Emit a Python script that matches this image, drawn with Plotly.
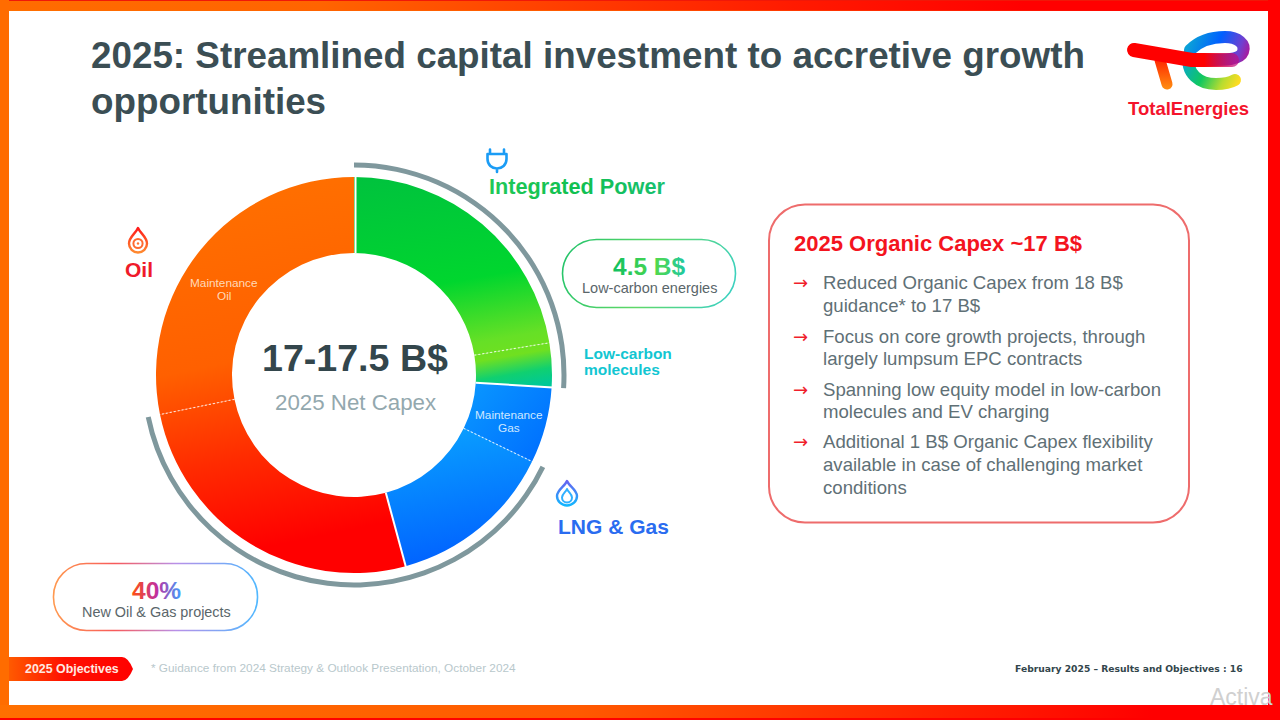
import base64
import math
import plotly.graph_objects as go

W, H = 1280, 720

# Capex split, share of net capex in percent, clockwise from 12 o'clock
segment_names = ["Low-carbon energies", "Low-carbon molecules", "Maintenance Gas",
                 "LNG & Gas growth", "New Oil", "Maintenance Oil"]
segment_values = [22.4, 3.6, 6.2, 13.6, 26.0, 28.2]
segment_fallback = ["#00d42e", "#10d070", "#0088ff", "#0080ff", "#ff2a00", "#ff6400"]

# Outer ring: Integrated Power span, gap, new-project span, gap
ring_names = ["Integrated Power", "gap 1", "New Oil & Gas projects", "gap 2"]
ring_values = [26.0, 6.2, 39.6, 28.2]
ring_colors = ["#7f989d", "rgba(0,0,0,0)", "#7f989d", "rgba(0,0,0,0)"]

# Slice boundaries by segment index: business lines are split by solid seams,
# sub-segments inside a business line by dashed ones
solid_edges = [1, 3]
dashed_edges = [0, 2, 4]

title_lines = ["2025: Streamlined capital investment to accretive growth", "opportunities"]
box_heading = "2025 Organic Capex ~17 B$"
box_bullets = [
    ["Reduced Organic Capex from 18 B$", "guidance* to 17 B$"],
    ["Focus on core growth projects, through", "largely lumpsum EPC contracts"],
    ["Spanning low equity model in low-carbon", "molecules and EV charging"],
    ["Additional 1 B$ Organic Capex flexibility", "available in case of challenging market", "conditions"],
]
bullet_line_y = [[283, 305], [336, 358], [389, 411], [441, 464, 487]]

CX, CY, R, R_IN = 354, 375, 198, 122
RING_OUT, RING_W = 212.5, 5

SANS = "Liberation Sans, Arial, sans-serif"
INK = "#3b4e54"
BODY = "#5f7076"


def px(x):
    return x / W


def py(y):
    return 1 - y / H


def note(text, x, y, size, color, anchor="left", bold=False, family=SANS):
    return dict(text=text, x=px(x), y=py(y), xref="paper", yref="paper", xanchor=anchor,
                yanchor="middle", showarrow=False, borderpad=0, align=anchor,
                font=dict(size=size, color=color, family=family,
                          weight=700 if bold else 400))


# Decorative layer: frame, logo, icons and rounded panels
decor_svg = f"""<svg xmlns='http://www.w3.org/2000/svg' width='{W}' height='{H}' viewBox='0 0 {W} {H}'>
<defs>
<linearGradient id='top'><stop offset='0' stop-color='#ff6c00'/><stop offset='.25' stop-color='#ff6400'/><stop offset='.62' stop-color='#ff1a00'/><stop offset='.8' stop-color='#ff0000'/></linearGradient>
<linearGradient id='bot'><stop offset='0' stop-color='#ff7000'/><stop offset='.45' stop-color='#ff5a00'/><stop offset='.8' stop-color='#ff1500'/><stop offset='.9' stop-color='#ff0000'/></linearGradient>
<linearGradient id='pillg' gradientUnits='userSpaceOnUse' x1='562' y1='239' x2='735' y2='307'><stop offset='0' stop-color='#1fc26a'/><stop offset='.5' stop-color='#5fd868'/><stop offset='1' stop-color='#38d0c8'/></linearGradient>
<linearGradient id='pillo' gradientUnits='userSpaceOnUse' x1='53' y1='0' x2='258' y2='0'><stop offset='0' stop-color='#ff9a50'/><stop offset='.3' stop-color='#f85a5a'/><stop offset='.6' stop-color='#b890e8'/><stop offset='1' stop-color='#50b8ff'/></linearGradient>
<linearGradient id='tab'><stop offset='0' stop-color='#ff5a00'/><stop offset='.45' stop-color='#ff1000'/><stop offset='1' stop-color='#ff0000'/></linearGradient>
<linearGradient id='oil' x1='0' y1='0' x2='0' y2='1'><stop offset='0' stop-color='#ff1a1a'/><stop offset='1' stop-color='#ff8a30'/></linearGradient>
<linearGradient id='gas' gradientUnits='userSpaceOnUse' x1='0' y1='480' x2='0' y2='506'><stop offset='0' stop-color='#6a60f0'/><stop offset='1' stop-color='#10b8ff'/></linearGradient>
<linearGradient id='eTop' gradientUnits='userSpaceOnUse' x1='1190' y1='40' x2='1248' y2='62'><stop offset='0' stop-color='#0aa0d8'/><stop offset='.45' stop-color='#0060ff'/><stop offset='.8' stop-color='#7040d0'/><stop offset='1' stop-color='#b81090'/></linearGradient>
<linearGradient id='eLow' gradientUnits='userSpaceOnUse' x1='1186' y1='58' x2='1238' y2='84'><stop offset='0' stop-color='#08a8c8'/><stop offset='.4' stop-color='#10c860'/><stop offset='.75' stop-color='#b8dc30'/><stop offset='1' stop-color='#ffdc20'/></linearGradient>
<linearGradient id='stem' gradientUnits='userSpaceOnUse' x1='0' y1='58' x2='0' y2='88'><stop offset='0' stop-color='#ff2000'/><stop offset='1' stop-color='#ff8a10'/></linearGradient>
<linearGradient id='bar' gradientUnits='userSpaceOnUse' x1='1130' y1='0' x2='1236' y2='0'><stop offset='0' stop-color='#ff0000'/><stop offset='.7' stop-color='#ff0000'/><stop offset='1' stop-color='#c00c80' stop-opacity='.7'/></linearGradient>
</defs>
<rect x='0' y='0' width='{W}' height='{H}' fill='url(#bot)'/>
<rect x='0' y='0' width='{W}' height='10' fill='url(#top)'/>
<rect x='0' y='0' width='{W}' height='1' fill='#f01808'/>
<rect x='1268' y='0' width='12' height='{H}' fill='#ff0000'/>
<rect x='0' y='718' width='{W}' height='2' fill='#ff0000'/>
<rect x='0' y='0' width='9' height='705' fill='#ff6c00'/>
<rect x='9' y='11' width='1259' height='694' fill='#ffffff'/>
<rect x='562.5' y='239.5' width='173' height='68' rx='34' fill='#fff' stroke='url(#pillg)' stroke-width='1.6'/>
<rect x='53.5' y='563.5' width='204' height='67' rx='33' fill='#fff' stroke='url(#pillo)' stroke-width='1.6'/>
<rect x='769' y='204.5' width='420' height='318' rx='36' fill='#fff' stroke='#ee6c6c' stroke-width='2'/>
<path d='M9,657 H122 Q128,657 133,669 Q128,681 122,681 H9 Z' fill='url(#tab)'/>
<g fill='none' stroke-linecap='round' stroke-linejoin='round'>
<path d='M1189,54 C1185,74 1200,84 1216,84 Q1228,84 1235,80' stroke='url(#eLow)' stroke-width='12'/>
<path d='M1190,50 C1200,40 1214,37 1225,37 C1238,37 1246,44 1243,52 C1240,60 1226,60 1205,60' stroke='url(#eTop)' stroke-width='12'/>
<path d='M1160,60 L1167,84' stroke='url(#stem)' stroke-width='11'/>
<path d='M1134,50 L1192,60 L1232,60' stroke='url(#bar)' stroke-width='14'/>
<path d='M490,149.5 V154 M504,149.5 V154 M487.5,154 H506.5 V159 C506.5,165 502,168.5 497,168.5 C492,168.5 487.5,165 487.5,159 Z M497,168.5 V172' stroke='#1b9cf5' stroke-width='2.6'/>
<path d='M138,228 C140,233 147,237 147,243.5 A9,9 0 1 1 129,243.5 C129,237 136,233 138,228 Z' stroke='url(#oil)' stroke-width='2.4'/>
<circle cx='138' cy='243.5' r='4.6' stroke='#ff6a30' stroke-width='2'/>
<circle cx='138' cy='243.5' r='1.2' fill='#ff7030' stroke='none'/>
<path d='M567,481 C569,486 577,490 577,496 A10,9.5 0 1 1 557,496 C557,490 565,486 567,481 Z' stroke='url(#gas)' stroke-width='2.4'/>
<path d='M567,489 C568,492 572,494 572,497.5 A5,5 0 1 1 562,497.5 C562,494 566,492 567,489 Z' stroke='#30b0ff' stroke-width='2'/>
</g>
</svg>"""
decor_uri = "data:image/svg+xml;base64," + base64.b64encode(decor_svg.encode()).decode()

fig = go.Figure()
fig.add_trace(go.Pie(
    labels=segment_names, values=segment_values, sort=False, direction="clockwise", rotation=0,
    hole=R_IN / R, textinfo="none", hoverinfo="label+percent",
    marker=dict(colors=segment_fallback, line=dict(width=0)),
    domain=dict(x=[px(CX - R), px(CX + R)], y=[py(CY + R), py(CY - R)]),
    showlegend=False,
))
fig.add_trace(go.Pie(
    labels=ring_names, values=ring_values, sort=False, direction="clockwise", rotation=0,
    hole=(RING_OUT - RING_W) / RING_OUT, textinfo="none", hoverinfo="skip",
    marker=dict(colors=ring_colors, line=dict(width=0)),
    domain=dict(x=[px(CX - RING_OUT), px(CX + RING_OUT)], y=[py(CY + RING_OUT), py(CY - RING_OUT)]),
    showlegend=False,
))


def edge_shapes(indices, width, dash, opacity):
    out = []
    total = sum(segment_values)
    for i in indices:
        theta = math.radians(sum(segment_values[:i + 1]) / total * 360)
        sx, sy = math.sin(theta), -math.cos(theta)
        out.append(dict(type="line", xref="paper", yref="paper", layer="above",
                        x0=px(CX + R_IN * sx), y0=py(CY + R_IN * sy),
                        x1=px(CX + (R + 1) * sx), y1=py(CY + (R + 1) * sy),
                        line=dict(color="#ffffff", width=width, dash=dash), opacity=opacity))
    return out


shapes = edge_shapes(solid_edges, 2, "solid", 1) + edge_shapes(dashed_edges, 1.1, "2px,2px", 0.8)
# The seam between the first and last slice sits at 12 o'clock
shapes.append(dict(type="line", xref="paper", yref="paper", layer="above",
                   x0=px(CX + 1.5), y0=py(CY - R_IN), x1=px(CX + 1.5), y1=py(CY - R - 1),
                   line=dict(color="#ffffff", width=2)))

notes = [
    note(title_lines[0], 90, 56, 36.8, INK, bold=True),
    note(title_lines[1], 90, 102, 36.8, INK, bold=True),
    note("TotalEnergies", 1127, 108, 18.5, "#f4142c", bold=True),
    note("Integrated Power", 488, 187, 21.7, "#12c04a", bold=True),
    note("Oil", 124, 269, 21, "#ef1a2a", bold=True),
    note("LNG &amp; Gas", 557, 526, 21, "#2a6cf0", bold=True),
    note("Low-carbon", 583, 353.5, 15.5, "#12c6d2", bold=True),
    note("molecules", 583, 369.5, 15.5, "#12c6d2", bold=True),
    note("4.5 B$", 649, 266, 24.5, "#20c860", "center", bold=True),
    note("Low-carbon energies", 649, 288, 14.5, "#5a666a", "center"),
    note("40%", 156, 590, 24.5, "#e04050", "center", bold=True),
    note("New Oil &amp; Gas projects", 156, 612, 14.4, "#5a666a", "center"),
    note("17-17.5 B$", 355, 358, 37.6, "#33464c", "center", bold=True),
    note("2025 Net Capex", 355, 402, 22.3, "#93a8ae", "center"),
    note("Maintenance", 224, 283, 11.8, "#ffd9b8", "center"),
    note("Oil", 224, 296, 11.8, "#ffd9b8", "center"),
    note("Maintenance", 509, 415, 11.8, "#cfe8ff", "center"),
    note("Gas", 509, 428, 11.8, "#cfe8ff", "center"),
    note(box_heading, 793, 243, 22, "#f4141e", bold=True),
    note("2025 Objectives", 72, 669, 12.4, "#ffe8e0", "center", bold=True),
    note("* Guidance from 2024 Strategy &amp; Outlook Presentation, October 2024", 150, 668, 11.8, "#b8c8cc"),
    note("February 2025 – Results and Objectives : 16", 1244, 668, 9.2, "#33464c", "right", bold=True,
         family="DejaVu Sans, sans-serif"),
    note("Activa", 1209, 697, 23, "#d0d0d0"),
]
for lines, ys in zip(box_bullets, bullet_line_y):
    notes.append(note("→", 792, ys[0], 18, "#f01e2c", family="DejaVu Sans, sans-serif"))
    for line, y in zip(lines, ys):
        notes.append(note(line, 822, y, 18.6, BODY))

fig.update_layout(
    width=W, height=H, margin=dict(l=0, r=0, t=0, b=0), autosize=False,
    paper_bgcolor="#ffffff", plot_bgcolor="#ffffff", showlegend=False,
    images=[dict(source=decor_uri, xref="paper", yref="paper", x=0, y=1, sizex=1, sizey=1,
                 xanchor="left", yanchor="top", sizing="stretch", layer="below")],
    shapes=shapes, annotations=notes,
)

# Gradient fills for the donut slices and the coloured headings
post = """
var gd = document.getElementById('{plot_id}');
var svg = gd.querySelector('svg.main-svg');
var NS = 'http://www.w3.org/2000/svg';
var defs = document.createElementNS(NS, 'defs');
svg.insertBefore(defs, svg.firstChild);
function grad(id, coords, stops, units) {
  var g = document.createElementNS(NS, 'linearGradient');
  g.setAttribute('id', id);
  g.setAttribute('gradientUnits', units || 'userSpaceOnUse');
  ['x1','y1','x2','y2'].forEach(function(k, i){ g.setAttribute(k, coords[i]); });
  stops.forEach(function(s){
    var e = document.createElementNS(NS, 'stop');
    e.setAttribute('offset', s[0]); e.setAttribute('stop-color', s[1]); g.appendChild(e);
  });
  defs.appendChild(g);
}
grad('gPower', [354,177,400,440], [[0,'#00c23e'],[0.45,'#00d62e'],[0.69,'#66e026'],[0.76,'#70e020'],[0.83,'#10d070'],[0.885,'#00c896']]);
grad('gGas', [430,420,462,572], [[0,'#0aa4ff'],[1,'#005cff']]);
grad('gMaint', [465,385,545,450], [[0,'#0a98ff'],[1,'#0070ff']]);
grad('gOil', [250,177,330,562], [[0,'#ff7000'],[0.45,'#ff6000'],[0.7,'#ff2a00'],[0.93,'#ff0000']]);
var fills = ['gPower','gPower','gMaint','gGas','gOil','gOil'];
var traces = gd.querySelectorAll('.pielayer .trace');
traces[0].querySelectorAll('path.surface').forEach(function(p, i){ p.style.fill = 'url(#' + fills[i] + ')'; });
grad('tPower', [0,0,1,0], [[0,'#20c858'],[0.5,'#10c050'],[1,'#18c070']], 'objectBoundingBox');
grad('tB', [0,0,1,0], [[0,'#10c060'],[0.6,'#50d850'],[1,'#20c8a0']], 'objectBoundingBox');
grad('tPct', [0,0,1,0], [[0,'#ff5010'],[0.5,'#c030a0'],[1,'#40a0ff']], 'objectBoundingBox');
var byText = {'Integrated Power':'tPower', '4.5 B$':'tB', '40%':'tPct'};
gd.querySelectorAll('.annotation-text').forEach(function(t){
  var k = byText[t.textContent];
  if (k) { t.style.fill = 'url(#' + k + ')'; }
});
"""

fig.write_html("out.html", post_script=post, config=dict(displayModeBar=False))
